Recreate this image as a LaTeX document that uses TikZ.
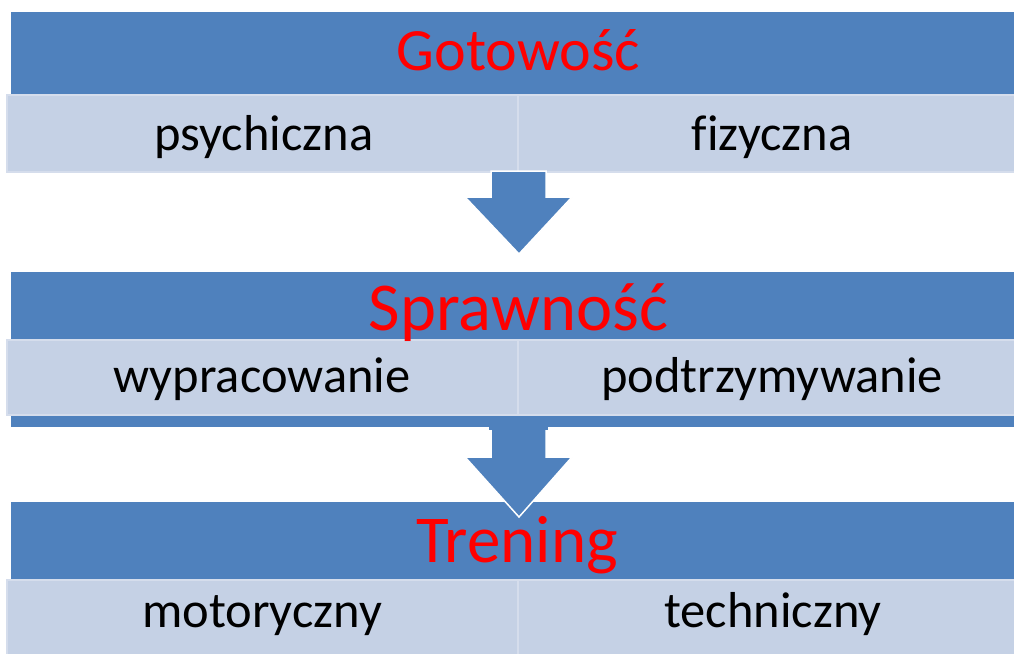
\documentclass[tikz,border=0pt]{standalone}
\usepackage{fontspec}
\setmainfont{Carlito}[Ligatures=NoCommon]
\definecolor{barblue}{RGB}{79,129,189}
\definecolor{cellfill}{RGB}{197,209,229}
\definecolor{celledge}{RGB}{213,221,236}
\definecolor{titlered}{RGB}{255,0,0}
\tikzset{
  bar/.style={fill=barblue, draw=none},
  cell/.style={fill=cellfill, draw=celledge, line width=1.2pt},
  title/.style={anchor=base, text=titlered, inner sep=0pt},
  sublabel/.style={anchor=base, text=black, inner sep=0pt, font=\fontsize{50.5}{50.5}\selectfont},
  downarrow/.style={fill=barblue, draw=white, line width=1.5pt, line join=miter}
}
\begin{document}
\begin{tikzpicture}[x=1pt, y=-1pt]
\useasboundingbox (0,0) rectangle (1014,653);
\fill[white] (0,0) rectangle (1014,653);

% Block 1
\path[bar] (11,12) rectangle (1016,95);
\path[cell] (7,95) rectangle (518,172);
\path[cell] (518,95) rectangle (1020,172);
\node[title, font=\fontsize{60}{60}\selectfont] (t1) at (518.5,70) {Gotowość};
\node[sublabel] (l1) at (264,150) {psychiczna};
\node[sublabel] (r1) at (772,150) {fizyczna};

% Block 2
\path[bar] (11,272) rectangle (1016,427);
\path[cell] (7,340) rectangle (518,415);
\path[cell] (518,340) rectangle (1020,415);
\node[title, font=\fontsize{68.5}{68.5}\selectfont] (t2) at (518.5,330) {Sprawność};
\node[sublabel] (l2) at (262,392) {wypracowanie};
\node[sublabel] (r2) at (772,392) {podtrzymywanie};

% Block 3
\path[bar] (11,502) rectangle (1016,580);
\path[cell] (7,580) rectangle (518,660);
\path[cell] (518,580) rectangle (1020,660);

% Arrows
\path[downarrow] (491,171) -- (546,171) -- (546,197) -- (572,197) -- (519,254) -- (465,197) -- (491,197) -- cycle;
\path[downarrow] (491,428) -- (546,428) -- (546,457) -- (572,457) -- (519,517) -- (465,457) -- (491,457) -- cycle;
\fill[barblue] (489,426) rectangle (548,429.5);

\node[title, font=\fontsize{67}{67}\selectfont] (t3) at (517,562) {Trening};
\node[sublabel] (l3) at (262,627) {motoryczny};
\node[sublabel] (r3) at (773,627) {techniczny};
\end{tikzpicture}
\end{document}
